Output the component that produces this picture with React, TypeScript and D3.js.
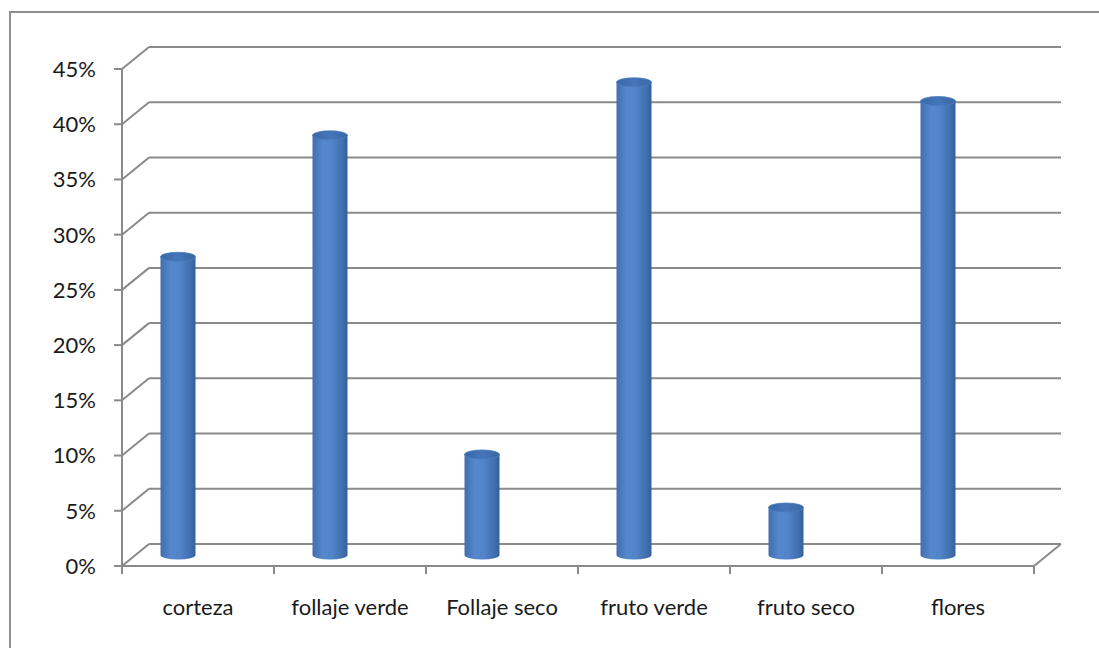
import React from "react";
import * as d3 from "d3";

const categories = ["corteza", "follaje verde", "Follaje seco", "fruto verde", "fruto seco", "flores"];
const values = [0.27, 0.38, 0.091, 0.428, 0.043, 0.411];
const yTicks = [0, 0.05, 0.1, 0.15, 0.2, 0.25, 0.3, 0.35, 0.4, 0.45];

export default function App() {
  const W = 1099, H = 648;
  const x0 = 122, x1 = 1034;
  const dx = 27, dy = -22;
  const x = d3.scaleBand<string>().domain(categories).range([x0, x1]).padding(0);
  const yF = d3.scaleLinear().domain([0, 0.45]).range([566, 69]);
  const yMid = (v: number) => yF(v) - 11;
  const barOffset = -20;
  const rx = 17.5, ry = 4.5;
  const fmt = d3.format(".0%");
  const grid = "#8a8a8a";
  const font = "Lato, 'Open Sans', sans-serif";

  return (
    <svg width={W} height={H} style={{ position: "absolute", left: 0, top: 0, background: "#fff" }}>
      <defs>
        <linearGradient id="body" x1="0" x2="1" y1="0" y2="0">
          <stop offset="0" stopColor="#416fb0" />
          <stop offset="0.3" stopColor="#5688cd" />
          <stop offset="0.55" stopColor="#5284c8" />
          <stop offset="0.85" stopColor="#4270b0" />
          <stop offset="1" stopColor="#365f9a" />
        </linearGradient>
        <linearGradient id="top" x1="0" x2="1" y1="0" y2="0">
          <stop offset="0" stopColor="#3a68a8" />
          <stop offset="0.5" stopColor="#4576b8" />
          <stop offset="1" stopColor="#3a67a5" />
        </linearGradient>
      </defs>
      <rect x={10} y={12} width={1100} height={660} fill="#fff" stroke="#8f8f8f" strokeWidth={2} />
      {yTicks.map((t) => {
        const yf = yF(t);
        return (
          <g key={t}>
            <line x1={x0} y1={yf} x2={x0 + dx} y2={yf + dy} stroke={grid} strokeWidth={2} />
            <line x1={x0 + dx} y1={yf + dy} x2={x1 + dx} y2={yf + dy} stroke={grid} strokeWidth={2} />
            <line x1={x0 - 8} y1={yf} x2={x0} y2={yf} stroke={grid} strokeWidth={2} />
            <text x={96} y={yf} dy="0.36em" textAnchor="end" fontFamily={font} fontSize={22} fill="#1a1a1a">
              {fmt(t)}
            </text>
          </g>
        );
      })}
      <line x1={x0} y1={yF(0)} x2={x1} y2={yF(0)} stroke={grid} strokeWidth={2} />
      <line x1={x1} y1={yF(0)} x2={x1 + dx} y2={yF(0) + dy} stroke={grid} strokeWidth={2} />
      <line x1={x0} y1={yF(0.45)} x2={x0} y2={yF(0) + 8} stroke={grid} strokeWidth={2} />
      {d3.range(categories.length + 1).map((i) => {
        const xx = x0 + i * x.bandwidth();
        return <line key={i} x1={xx} y1={yF(0)} x2={xx} y2={yF(0) + 8} stroke={grid} strokeWidth={2} />;
      })}
      {categories.map((c, i) => {
        const cx = (x(c) as number) + x.bandwidth() / 2 + barOffset;
        const yb = yMid(0);
        const yt = yMid(values[i]);
        const body = `M${cx - rx},${yt} L${cx - rx},${yb} A${rx},${ry} 0 0 0 ${cx + rx},${yb} L${cx + rx},${yt} Z`;
        return (
          <g key={c}>
            <path d={body} fill="url(#body)" />
            <ellipse cx={cx} cy={yt} rx={rx} ry={ry} fill="url(#top)" stroke="#4a7bbf" strokeWidth={0.8} />
          </g>
        );
      })}
      {categories.map((c) => (
        <text key={c} x={(x(c) as number) + x.bandwidth() / 2} y={607} dy="0.36em" textAnchor="middle"
          fontFamily={font} fontSize={22} fill="#1a1a1a">
          {c}
        </text>
      ))}
    </svg>
  );
}
